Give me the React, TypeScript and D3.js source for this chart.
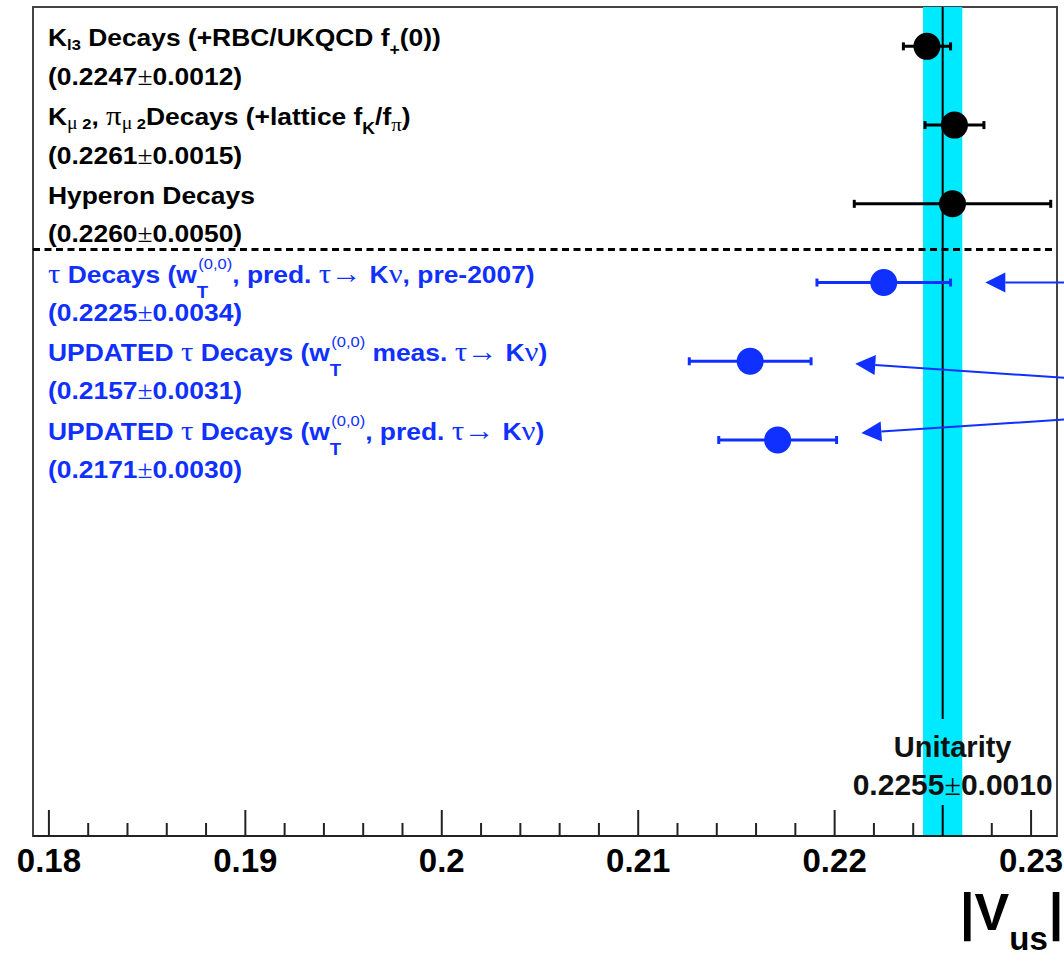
import * as d3 from "d3";
import React from "react";

// text segment: [text, style]
type Seg = [string, string];

const rowLabels: Seg[][] = [
	[["K", "n"], ["l3", "l"], [" Decays (+RBC/UKQCD f", "n"], ["+", "f"], ["(0))", "n"]],
	[
		["K", "n"], ["μ", "lg"], [" 2", "l"], [", ", "n"], ["π", "g"], ["μ", "lg"], [" 2", "l"],
		["Decays (+lattice f", "n"], ["K", "f"], ["/f", "n"], ["π", "fg"], [")", "n"],
	],
	[["Hyperon Decays", "n"]],
	[
		["τ", "g"], [" Decays (w", "n"], ["T", "T"], ["(0,0)", "u"], [", pred. ", "n"],
		["τ→ ", "g"], ["K", "n"], ["ν", "g"], [", pre-2007)", "n"],
	],
	[
		["UPDATED ", "n"], ["τ", "g"], [" Decays (w", "n"], ["T", "T"], ["(0,0)", "u"], [" meas. ", "n"],
		["τ→ ", "g"], ["K", "n"], ["ν", "g"], [")", "n"],
	],
	[
		["UPDATED ", "n"], ["τ", "g"], [" Decays (w", "n"], ["T", "T"], ["(0,0)", "u"], [", pred. ", "n"],
		["τ→ ", "g"], ["K", "n"], ["ν", "g"], [")", "n"],
	],
];
const values = [0.2247, 0.2261, 0.226, 0.2225, 0.2157, 0.2171];
const errors = [0.0012, 0.0015, 0.005, 0.0034, 0.0031, 0.003];
const rowGroups = ["old", "old", "old", "tau", "tau", "tau"];

const unitarity = 0.2255;
const unitarityErr = 0.001;

const xMajorTicks = [0.18, 0.19, 0.2, 0.21, 0.22, 0.23];
const xTickLabels = ["0.18", "0.19", "0.2", "0.21", "0.22", "0.23"];
const separatorRow = 2.58;

// annotation arrows (value, row) -> (value, row), pointing at tau results
const arrowFrom = [[0.2335, 3.0], [0.2335, 4.24], [0.2335, 4.71]];
const arrowTo = [[0.22767, 3.0], [0.22105, 4.03], [0.22136, 4.91]];

const W = 1064;
const H = 954;
const SANS = "'Liberation Sans', Arial, Helvetica, sans-serif";
const SERIF = "'Liberation Serif', 'DejaVu Serif', serif";
const BLUE = "#1030ff";

const segStyle: Record<string, { size: number; off: number; serif?: boolean; weight?: string; dx?: number }> = {
	n: { size: 24, off: 0 },
	g: { size: 28, off: 0, serif: true, weight: "normal" },
	l: { size: 15, off: 4 },
	lg: { size: 18, off: 4, serif: true, weight: "normal" },
	f: { size: 16, off: 9 },
	fg: { size: 19, off: 6, serif: true, weight: "normal" },
	T: { size: 17, off: 15 },
	u: { size: 15, off: -14, weight: "normal", dx: -9 },
};

export default function App() {
	const svgRef = React.useRef<SVGSVGElement>(null);

	React.useEffect(() => {
		if (!svgRef.current) return;
		const svg = d3.select(svgRef.current);
		svg.selectAll("*").remove();

		const margin = { left: 33, right: 7, top: 7, bottom: 118 };
		const x = d3.scaleLinear().domain([0.17919, 0.23132]).range([margin.left, W - margin.right]);
		const y = d3.scaleLinear().domain([-0.5, 10.03]).range([margin.top, H - margin.bottom]);
		const x0 = x.range()[0], x1 = x.range()[1];
		const yTop = y.range()[0], yBot = y.range()[1];
		const color = (g: string) => (g === "tau" ? BLUE : "#000");

		svg.append("rect").attr("width", W).attr("height", H).attr("fill", "white");

		// Step 1: frame and axis ticks
		svg.append("rect")
			.attr("x", x0).attr("y", yTop).attr("width", x1 - x0).attr("height", yBot - yTop)
			.attr("fill", "none").attr("stroke", "#444").attr("stroke-width", 2);

		const minor = d3.range(0, 26).map((i) => 0.18 + i * 0.002);
		minor.forEach((t) => {
			const major = xMajorTicks.some((m) => Math.abs(m - t) < 1e-6);
			svg.append("line")
				.attr("x1", x(t)).attr("x2", x(t))
				.attr("y1", yBot).attr("y2", yBot - (major ? 26 : 13))
				.attr("stroke", "#222").attr("stroke-width", 2);
		});
		svg.append("line")
			.attr("x1", x0).attr("x2", x1).attr("y1", yBot).attr("y2", yBot)
			.attr("stroke", "#222").attr("stroke-width", 2);

		xMajorTicks.forEach((t, i) => {
			svg.append("text")
				.attr("x", x(t)).attr("y", yBot + 36)
				.attr("text-anchor", "middle")
				.attr("font-family", SANS).attr("font-weight", "bold").attr("font-size", 33)
				.attr("fill", "#000")
				.text(xTickLabels[i]);
		});

		// Step 2: unitarity band and line
		svg.append("rect")
			.attr("x", x(unitarity - unitarityErr)).attr("y", yTop)
			.attr("width", x(unitarity + unitarityErr) - x(unitarity - unitarityErr))
			.attr("height", yBot - yTop - 1)
			.attr("fill", "#00eaff");
		[[yTop, yBot - 117], [yBot - 31, yBot]].forEach(([a, b]) => {
			svg.append("line")
				.attr("x1", x(unitarity)).attr("x2", x(unitarity))
				.attr("y1", a).attr("y2", b)
				.attr("stroke", "#000").attr("stroke-width", 2);
		});

		const ux = x(unitarity) + 10;
		svg.append("text")
			.attr("x", ux).attr("y", yBot - 79).attr("text-anchor", "middle")
			.attr("font-family", SANS).attr("font-weight", "bold").attr("font-size", 29)
			.attr("fill", "#111").text("Unitarity");
		const ut = svg.append("text")
			.attr("x", ux).attr("y", yBot - 41).attr("text-anchor", "middle")
			.attr("font-family", SANS).attr("font-weight", "bold").attr("font-size", 30)
			.attr("fill", "#111");
		ut.append("tspan").text(unitarity.toFixed(4));
		ut.append("tspan").attr("font-family", SERIF).attr("font-weight", "normal").text("±");
		ut.append("tspan").text(unitarityErr.toFixed(4));

		// Step 3: separator
		svg.append("line")
			.attr("x1", x0).attr("x2", x1 - 3)
			.attr("y1", y(separatorRow)).attr("y2", y(separatorRow))
			.attr("stroke", "#000").attr("stroke-width", 3)
			.attr("stroke-dasharray", "7 4.5");

		// Step 4: measurements
		values.forEach((v, i) => {
			const c = color(rowGroups[i]);
			const cy = y(i);
			const lo = x(v - errors[i]);
			const hi = x(v + errors[i]);
			svg.append("line")
				.attr("x1", lo).attr("x2", hi).attr("y1", cy).attr("y2", cy)
				.attr("stroke", c).attr("stroke-width", 3);
			[lo, hi].forEach((ex) => {
				svg.append("rect")
					.attr("x", ex - 1.5).attr("y", cy - 4).attr("width", 3).attr("height", 8)
					.attr("fill", c);
			});
			svg.append("circle").attr("cx", x(v)).attr("cy", cy).attr("r", 13.5).attr("fill", c);

			// labels
			const g = svg.append("g")
				.attr("transform", `translate(48, ${cy}) scale(1.1, 1)`)
				.attr("fill", c);
			const t1 = g.append("text")
				.attr("font-family", SANS).attr("font-weight", "bold").attr("font-size", 24);
			let cur = 0;
			rowLabels[i].forEach(([s, k]) => {
				const st = segStyle[k];
				const ts = t1.append("tspan")
					.attr("dy", st.off - cur)
					.attr("font-size", st.size)
					.text(s);
				if (st.serif) ts.attr("font-family", SERIF);
				if (st.weight) ts.attr("font-weight", st.weight);
				if (st.dx) ts.attr("dx", st.dx);
				cur = st.off;
			});
			const t2 = g.append("text")
				.attr("y", rowGroups[i] === "tau" ? 38 : 38.5)
				.attr("font-family", SANS).attr("font-weight", "bold").attr("font-size", 24);
			t2.append("tspan").text("(" + v.toFixed(4));
			t2.append("tspan").attr("font-family", SERIF).attr("font-weight", "normal").attr("font-size", 25).text("±");
			t2.append("tspan").text(errors[i].toFixed(4) + ")");
		});

		// Step 5: arrows
		arrowFrom.forEach((f, i) => {
			const ax = x(f[0]), ay = y(f[1]);
			const bx = x(arrowTo[i][0]), by = y(arrowTo[i][1]);
			const len = Math.hypot(bx - ax, by - ay);
			const ux2 = (bx - ax) / len, uy2 = (by - ay) / len;
			const hl = 20, hw = 10;
			const baseX = bx - ux2 * hl, baseY = by - uy2 * hl;
			svg.append("line")
				.attr("x1", ax).attr("y1", ay).attr("x2", baseX).attr("y2", baseY)
				.attr("stroke", BLUE).attr("stroke-width", 2);
			svg.append("path")
				.attr("d", d3.line()([
					[bx, by],
					[baseX - uy2 * hw, baseY + ux2 * hw],
					[baseX + uy2 * hw, baseY - ux2 * hw],
				]) + "Z")
				.attr("fill", BLUE);
		});

		// Step 6: axis title |Vus|
		const vt = svg.append("text")
			.attr("x", 960).attr("y", 930)
			.attr("font-family", SANS).attr("font-weight", "bold").attr("font-size", 52)
			.attr("fill", "#000");
		vt.append("tspan").text("|V");
		vt.append("tspan").attr("font-size", 33).attr("dy", 20).text("us");
		vt.append("tspan").attr("dy", -20).attr("dx", 1).text("|");
	}, []);

	return (
		<svg
			ref={svgRef}
			width={W}
			height={H}
			style={{ position: "absolute", left: 0, top: 0, display: "block" }}
		/>
	);
}
